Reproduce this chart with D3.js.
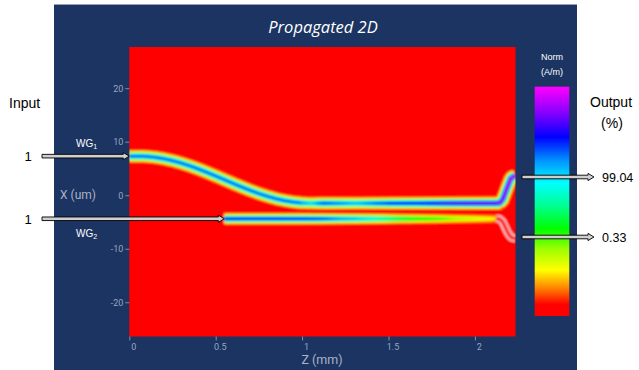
<!DOCTYPE html>
<html><head><meta charset="utf-8">
<script src="https://cdn.jsdelivr.net/npm/d3@7"></script>
<style>html,body{margin:0;padding:0;background:#fff;}svg{display:block;}</style>
</head><body>
<svg id="c" width="639" height="370"></svg>
<script>
// ---- data ----
const zTicks = [0, 0.5, 1, 1.5, 2];
const xTicks = [-20, -10, 0, 10, 20];
const inputs = [1, 1];
const outputs = [99.04, 0.33];
// waveguide 1 centre line (z in mm, x in um)
const wg1Z = [0, 0.05, 0.10, 0.15, 0.20, 0.25, 0.30, 0.35, 0.40, 0.45, 0.50, 0.55, 0.60, 0.65, 0.70, 0.75, 0.80, 0.85, 0.90, 0.95, 1.00, 1.05, 2.14, 2.16, 2.19, 2.21, 2.235];
const wg1X = [7.3, 7.3, 7.25, 7.08, 6.82, 6.46, 6.01, 5.49, 4.90, 4.26, 3.59, 2.90, 2.21, 1.54, 0.90, 0.31, -0.21, -0.66, -1.02, -1.28, -1.45, -1.5, -1.5, -0.9, 1.7, 3.3, 3.6];
// waveguide 1 peak field (normalised)
const wg1AmpZ = [0, 0.98, 1.05, 1.12, 1.2, 1.3, 1.4, 1.5, 1.6, 1.7, 1.8, 1.9, 2.0, 2.1, 2.16, 2.235];
const wg1Amp  = [0.72, 0.72, 0.63, 0.75, 0.71, 0.66, 0.71, 0.77, 0.78, 0.80, 0.84, 0.87, 0.88, 0.89, 0.92, 0.96];
// waveguide 2 centre line
const wg2Z = [0.55, 2.14, 2.16, 2.19, 2.21, 2.235];
const wg2X = [-4.4, -4.4, -4.9, -7.0, -7.9, -8.1];
const wg2AmpZ = [0.55, 1.0, 1.1, 1.25, 1.4, 1.5, 1.6, 1.7, 1.8, 1.9, 2.0, 2.1, 2.14, 2.16, 2.235];
const wg2Amp  = [0.79, 0.78, 0.76, 0.68, 0.60, 0.52, 0.44, 0.39, 0.35, 0.29, 0.25, 0.21, 0.13, 0.0, 0.0];
// colour map (value -> colour)
const cmapV = [0, 0.05, 0.12, 0.20, 0.29, 0.38, 0.48, 0.58, 0.68, 0.78, 0.88, 1.0];
const cmapC = ["#ff0000", "#ff0000", "#ff8000", "#ffff00", "#a0ff00", "#00ff00", "#00ff90", "#00ffff", "#0090ff", "#0000ff", "#8000ff", "#ff00ff"];

// ---- drawing ----
const svg = d3.select("#c");
const navy = "#1b3461";
svg.append("rect").attr("x", 54).attr("y", 4).attr("width", 523).attr("height", 366).attr("fill", navy);
svg.append("line").attr("x1", 54).attr("x2", 577).attr("y1", 4.5).attr("y2", 4.5).attr("stroke", "#9aa3b5").attr("stroke-width", 1);

const x = d3.scaleLinear().domain([0, 2.235]).range([129.3, 515.5]);
const y = d3.scaleLinear().domain([-26.4, 27.7]).range([336.5, 47]);
const cmap = d3.scaleLinear().domain(cmapV).range(cmapC).clamp(true);

svg.append("text").attr("x", 323).attr("y", 33).attr("text-anchor", "middle")
  .attr("font-family", "Open Sans").attr("font-style", "italic").attr("font-size", 16.5)
  .attr("fill", "#fff").text("Propagated 2D");

const defs = svg.append("defs");
defs.append("clipPath").attr("id", "plotclip").append("rect")
  .attr("x", x(0)).attr("y", y(27.7)).attr("width", x(2.235) - x(0)).attr("height", y(-26.4) - y(27.7));
defs.append("filter").attr("id", "soft").attr("x", "-5%").attr("y", "-5%").attr("width", "110%").attr("height", "110%")
  .append("feGaussianBlur").attr("stdDeviation", 0.8);

const clipG = svg.append("g").attr("clip-path", "url(#plotclip)");
const field = clipG.append("g").attr("filter", "url(#soft)");
field.append("rect").attr("x", x(0) - 4).attr("y", y(27.7) - 4).attr("width", x(2.235) - x(0) + 8).attr("height", y(-26.4) - y(27.7) + 8).attr("fill", "#ff0000");

function makeWG(zs, xs, az, av, sigma) {
  const pathX = d3.scaleLinear().domain(zs).range(xs);
  const amp = d3.scaleLinear().domain(az).range(av).clamp(true);
  const z0 = zs[0], z1 = zs[zs.length - 1];
  const step = 0.006;
  const samples = d3.range(z0, z1 + step / 2, step).map(z => Math.min(z, z1));
  return { pathX, amp, samples, sigma };
}
const wgs = [makeWG(wg1Z, wg1X, wg1AmpZ, wg1Amp, 3.0), makeWG(wg2Z, wg2X, wg2AmpZ, wg2Amp, 2.7)];
const bandD = [8.0, 7.25, 6.5, 5.75, 5.0, 4.25, 3.5, 2.75, 2.0, 1.25, 0.6];
const line = d3.line();
// steep transverse edges render pale between yellow and cyan
function bandColor(v, inner) {
  const c = cmap(v);
  if (inner) return c;
  const t = Math.max(0, 1 - Math.abs(v - 0.38) / 0.2) * 0.5;
  return d3.interpolateRgb(c, "#ffffff")(t);
}
bandD.forEach((d, bi) => {
  const dc = Math.max(0, d - 0.375);
  const inner = bi >= bandD.length - 3;
  wgs.forEach(w => {
    const pts = w.samples.map(z => [x(z), y(w.pathX(z))]);
    const vals = w.samples.map(z => Math.round(w.amp(z) * Math.exp(-dc * dc / (2 * w.sigma * w.sigma)) * 200) / 200);
    let start = 0;
    for (let i = 1; i <= pts.length; i++) {
      if (i === pts.length || vals[i] !== vals[start]) {
        const seg = pts.slice(start, Math.min(i + 1, pts.length));
        if (seg.length >= 2 && vals[start] > 0.04) {
          field.append("path").attr("d", line(seg)).attr("fill", "none")
            .attr("stroke", bandColor(vals[start], inner)).attr("stroke-width", 2 * d)
            .attr("stroke-linejoin", "round").attr("stroke-linecap", "butt");
        }
        start = i;
      }
    }
  });
});
// faint outline of the dark output branch of WG2
const w2 = wgs[1];
const outPts = w2.samples.filter(z => z >= 2.12).map(z => [x(z), y(w2.pathX(z))]);
field.append("path").attr("d", line(outPts)).attr("fill", "none").attr("stroke", "#ffe8e8").attr("stroke-width", 7).attr("stroke-linejoin", "round");
field.append("path").attr("d", line(outPts)).attr("fill", "none").attr("stroke", "#ff1010").attr("stroke-width", 4).attr("stroke-linejoin", "round");

// axes
const axisColor = "#9aa5bf";
const gy = svg.append("g").attr("transform", `translate(${x(0)},0)`)
  .call(d3.axisLeft(y).tickValues(xTicks).tickSize(4).tickPadding(2).tickFormat(d => String(d)));
const gx = svg.append("g").attr("transform", `translate(0,${y(-26.4)})`)
  .call(d3.axisBottom(x).tickValues(zTicks).tickSize(4).tickPadding(3).tickFormat(d => String(d)));
[gx, gy].forEach(g => {
  g.select(".domain").remove();
  g.selectAll(".tick line").attr("stroke", axisColor).attr("stroke-opacity", 0.8);
  g.selectAll(".tick text").attr("fill", axisColor).attr("font-family", "Roboto").attr("font-size", 9);
});
gx.selectAll(".tick text").attr("dx", 4);
svg.append("text").attr("x", 78).attr("y", 199).attr("text-anchor", "middle").attr("font-family", "Roboto")
  .attr("font-size", 12).attr("fill", "#a9b3c8").text("X (um)");
svg.append("text").attr("x", 322).attr("y", 364).attr("text-anchor", "middle").attr("font-family", "Roboto")
  .attr("font-size", 12.5).attr("fill", "#a9b3c8").text("Z (mm)");

// colour bar
const cbTop = 86.7, cbBot = 316, cbX = 534.7, cbW = 34.6;
const cb = d3.scaleLinear().domain([0, 1]).range([cbBot, cbTop]);
const grad = defs.append("linearGradient").attr("id", "cbgrad")
  .attr("x1", 0).attr("x2", 0).attr("y1", 1).attr("y2", 0);
cmapV.forEach((v, i) => grad.append("stop").attr("offset", v).attr("stop-color", cmapC[i]));
svg.append("rect").attr("x", cbX).attr("y", cb(1)).attr("width", cbW).attr("height", cb(0) - cb(1)).attr("fill", "url(#cbgrad)");
svg.append("text").attr("x", 552).attr("y", 60).attr("text-anchor", "middle").attr("font-family", "Liberation Sans")
  .attr("font-size", 9).attr("fill", "#fff").text("Norm");
svg.append("text").attr("x", 552).attr("y", 75).attr("text-anchor", "middle").attr("font-family", "Liberation Sans")
  .attr("font-size", 9).attr("fill", "#fff").text("(A/m)");

// labels outside
const black = "#000";
svg.append("text").attr("x", 9).attr("y", 108).attr("font-family", "Liberation Sans").attr("font-size", 14).attr("fill", black).text("Input");
svg.append("text").attr("x", 590).attr("y", 107).attr("font-family", "Liberation Sans").attr("font-size", 14).attr("fill", black).text("Output");
svg.append("text").attr("x", 612).attr("y", 128).attr("text-anchor", "middle").attr("font-family", "Liberation Sans").attr("font-size", 14).attr("fill", black).text("(%)");

function wgLabel(n, yy) {
  const t = svg.append("text").attr("x", 76).attr("y", yy).attr("font-family", "Liberation Sans").attr("font-size", 10).attr("fill", "#fff");
  t.append("tspan").text("WG");
  t.append("tspan").attr("font-size", 7).attr("dy", 2).text(n);
}
wgLabel("1", 147);
wgLabel("2", 237);

function arrow(x1, x2, yy) {
  const sh = 1.8, hh = 3.6, hl = 6;
  const pts = [[x1, yy - sh], [x2 - hl, yy - sh], [x2 - hl, yy - hh], [x2, yy], [x2 - hl, yy + hh], [x2 - hl, yy + sh], [x1, yy + sh]];
  svg.append("polygon").attr("points", pts.map(p => p.join(",")).join(" "))
    .attr("fill", "#cfcfcf").attr("stroke", "#000").attr("stroke-width", 0.9);
}
const inY = [y(wg1X[0]), y(wg2X[0])];
const inEnd = [x(wg1Z[0]), x(wg2Z[0])];
inputs.forEach((v, i) => {
  svg.append("text").attr("x", 28).attr("y", inY[i] + 5).attr("text-anchor", "middle").attr("font-family", "Liberation Sans").attr("font-size", 13).attr("fill", black).text(v);
  arrow(42, inEnd[i], inY[i]);
});
const outY = [177, 237];
outputs.forEach((v, i) => {
  arrow(522, 594, outY[i]);
  svg.append("text").attr("x", 602).attr("y", outY[i] + 4.5).attr("font-family", "Liberation Sans").attr("font-size", 12.5).attr("fill", black).text(v);
});
</script>
</body></html>
